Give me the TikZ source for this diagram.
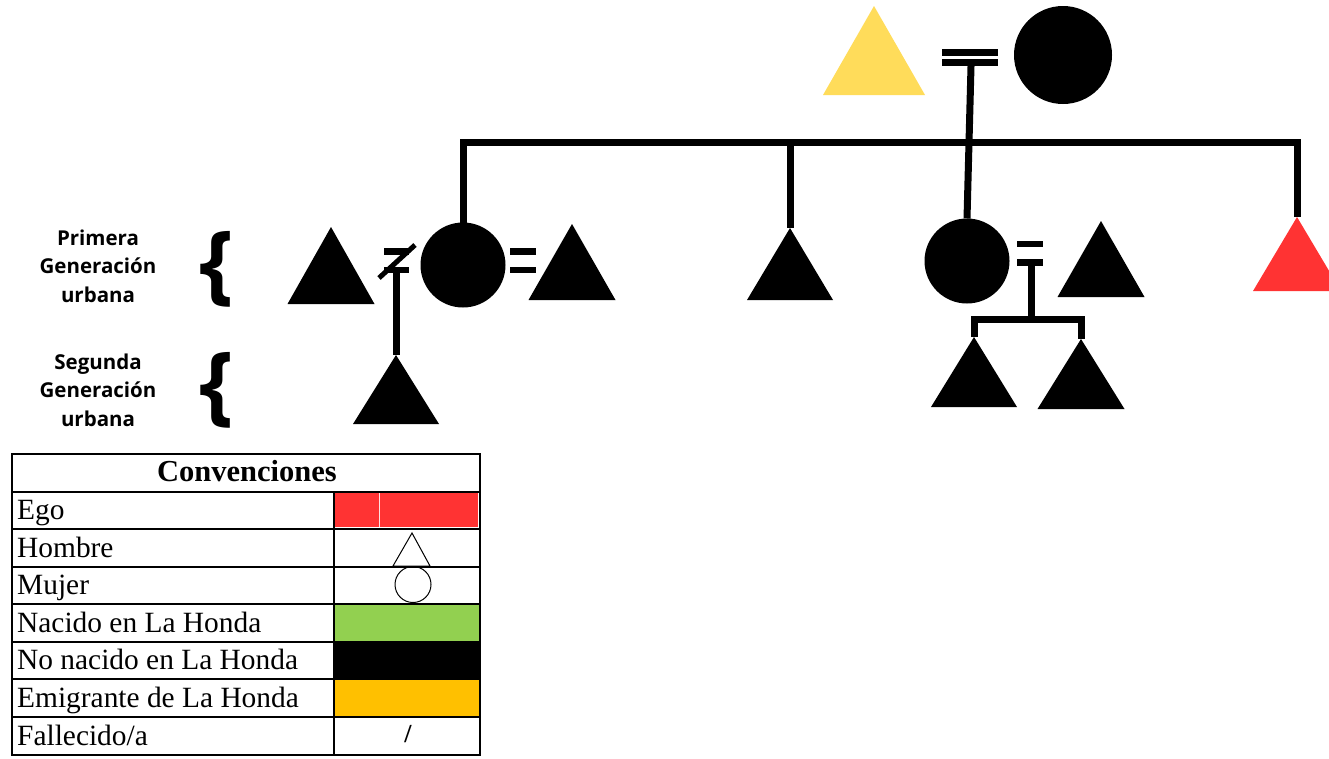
\documentclass[tikz,border=0pt]{standalone}
\usepackage{fontspec}
\setmainfont{Liberation Serif}
\newfontfamily\labfont{Open Sans}
\definecolor{egored}{HTML}{FF3333}
\definecolor{yel}{HTML}{FFDC5A}
\definecolor{grn}{HTML}{92D050}
\definecolor{org}{HTML}{FFC000}
% name, apex x, apex y, base width, height, colour
\newcommand\Tri[6]{%
  \coordinate (#1) at (#2,#3);
  \fill[#6] (#1) -- ++(-#4/2,#5) -- ++(#4,0) -- cycle;}
\tikzset{
  kin/.style={line width=7pt, line join=miter},
  person/.style={circle, fill=black, inner sep=0pt, outer sep=0pt, minimum size=85pt},
  gen/.style={font=\labfont\bfseries\fontsize{20.5}{28.5}\selectfont, align=center},
  brace/.style={font=\labfont\bfseries\fontsize{87}{87}\selectfont, inner sep=0pt},
  tab/.style={line width=2pt},
  cell/.style={anchor=base west, inner sep=0pt, font=\fontsize{29.4}{29.4}\selectfont},
}
\begin{document}
\begin{tikzpicture}[x=1pt, y=-1pt]
\clip (0,0) rectangle (1329,758);
\fill[white] (0,0) rectangle (1329,758);

% ---------- top couple ----------
\Tri{GF}{874}{6}{102}{89}{yel}
\node[person, minimum size=98pt] (GM) at (1063,55) {};
\fill (942,49) rectangle (998,56);
\fill (942,59) rectangle (998,66);
\coordinate (eqTop) at (971,66);
\coordinate (hline) at (0,142);

% ---------- first generation ----------
\Tri{L1}{331}{227}{87}{77}{black}
\node[person] (M1) at (463,265) {};
\Tri{L2}{572}{224}{87}{76}{black}
\Tri{T2}{790}{228}{86}{72}{black}
\node[person] (M2) at (967,261) {};
\Tri{R1}{1101}{221}{87}{76}{black}
\Tri{EGO}{1297}{217}{88}{74}{egored}

% sibling line
\draw[kin] (M1.north) -- (M1.north |- hline) -- (EGO |- hline) -- (EGO);
\draw[kin] (T2 |- hline) -- (T2);
\draw[kin] (eqTop) -- (M2.north);

% divorce sign between L1 and M1
\fill (384,248) rectangle (409,255);
\fill (384,267) rectangle (409,273);
\draw[line width=5pt] (379,278) -- (415,245);
\coordinate (divEq) at (396,273);
% marriage M1 = L2
\fill (510,248) rectangle (536,255);
\fill (510,267) rectangle (536,273);
% marriage M2 = R1
\fill (1017,241) rectangle (1043,247);
\fill (1017,259) rectangle (1043,266);
\coordinate (rEq) at (1031,266);
\coordinate (rline) at (0,319);

% ---------- second generation ----------
\Tri{C1}{396}{355}{86}{69}{black}
\Tri{C2}{974}{337}{86}{70}{black}
\Tri{C3}{1081}{339}{87}{70}{black}
\draw[kin] (divEq) -- (C1);
\draw[kin] (rEq) -- (rEq |- rline);
\draw[kin] (C2) -- (C2 |- rline) -- (C3 |- rline) -- (C3);

% ---------- generation labels ----------
\node[gen] (g1) at (98,266) {Primera\\Generación\\urbana};
\node[gen] (g2) at (98,390) {Segunda\\Generación\\urbana};
\node[brace] (b1) at (217,269) {\{};
\node[brace] (b2) at (217,390) {\{};

% ---------- legend table ----------
\fill[egored] (335,492) rectangle (478,527);
\draw[white!85!egored, line width=0.6pt] (379,492) -- (379,527);
\fill[grn] (334,604) rectangle (480,642);
\fill[black] (334,642) rectangle (480,679);
\fill[org] (334,679) rectangle (480,717);
\draw[tab] (12,454) rectangle (480,755);
\foreach \yy in {492,529,567,604,642,679,717}
  \draw[tab] (12,\yy) -- (480,\yy);
\draw[tab] (334,492) -- (334,755);
\node[anchor=base, inner sep=0pt, font=\bfseries\fontsize{30.5}{30.5}\selectfont] (hd) at (247,481) {Convenciones};
\node[cell] (r1) at (17,519) {Ego};
\node[cell] (r2) at (17,557) {Hombre};
\node[cell] (r3) at (17,594) {Mujer};
\node[cell] (r4) at (17,632) {Nacido en La Honda};
\node[cell] (r5) at (17,669) {No nacido en La Honda};
\node[cell] (r6) at (17,707) {Emigrante de La Honda};
\node[cell] (r7) at (17,745) {Fallecido/a};
\draw[line width=1pt, line join=miter] (412,533) -- (430,566) -- (393,566) -- cycle;
\node[circle, draw, line width=1pt, inner sep=0pt, minimum size=36pt] (mu) at (413,584.5) {};
\node[inner sep=0pt, font=\bfseries\fontsize{26}{26}\selectfont] (dead) at (408,734) {/};
\end{tikzpicture}
\end{document}
